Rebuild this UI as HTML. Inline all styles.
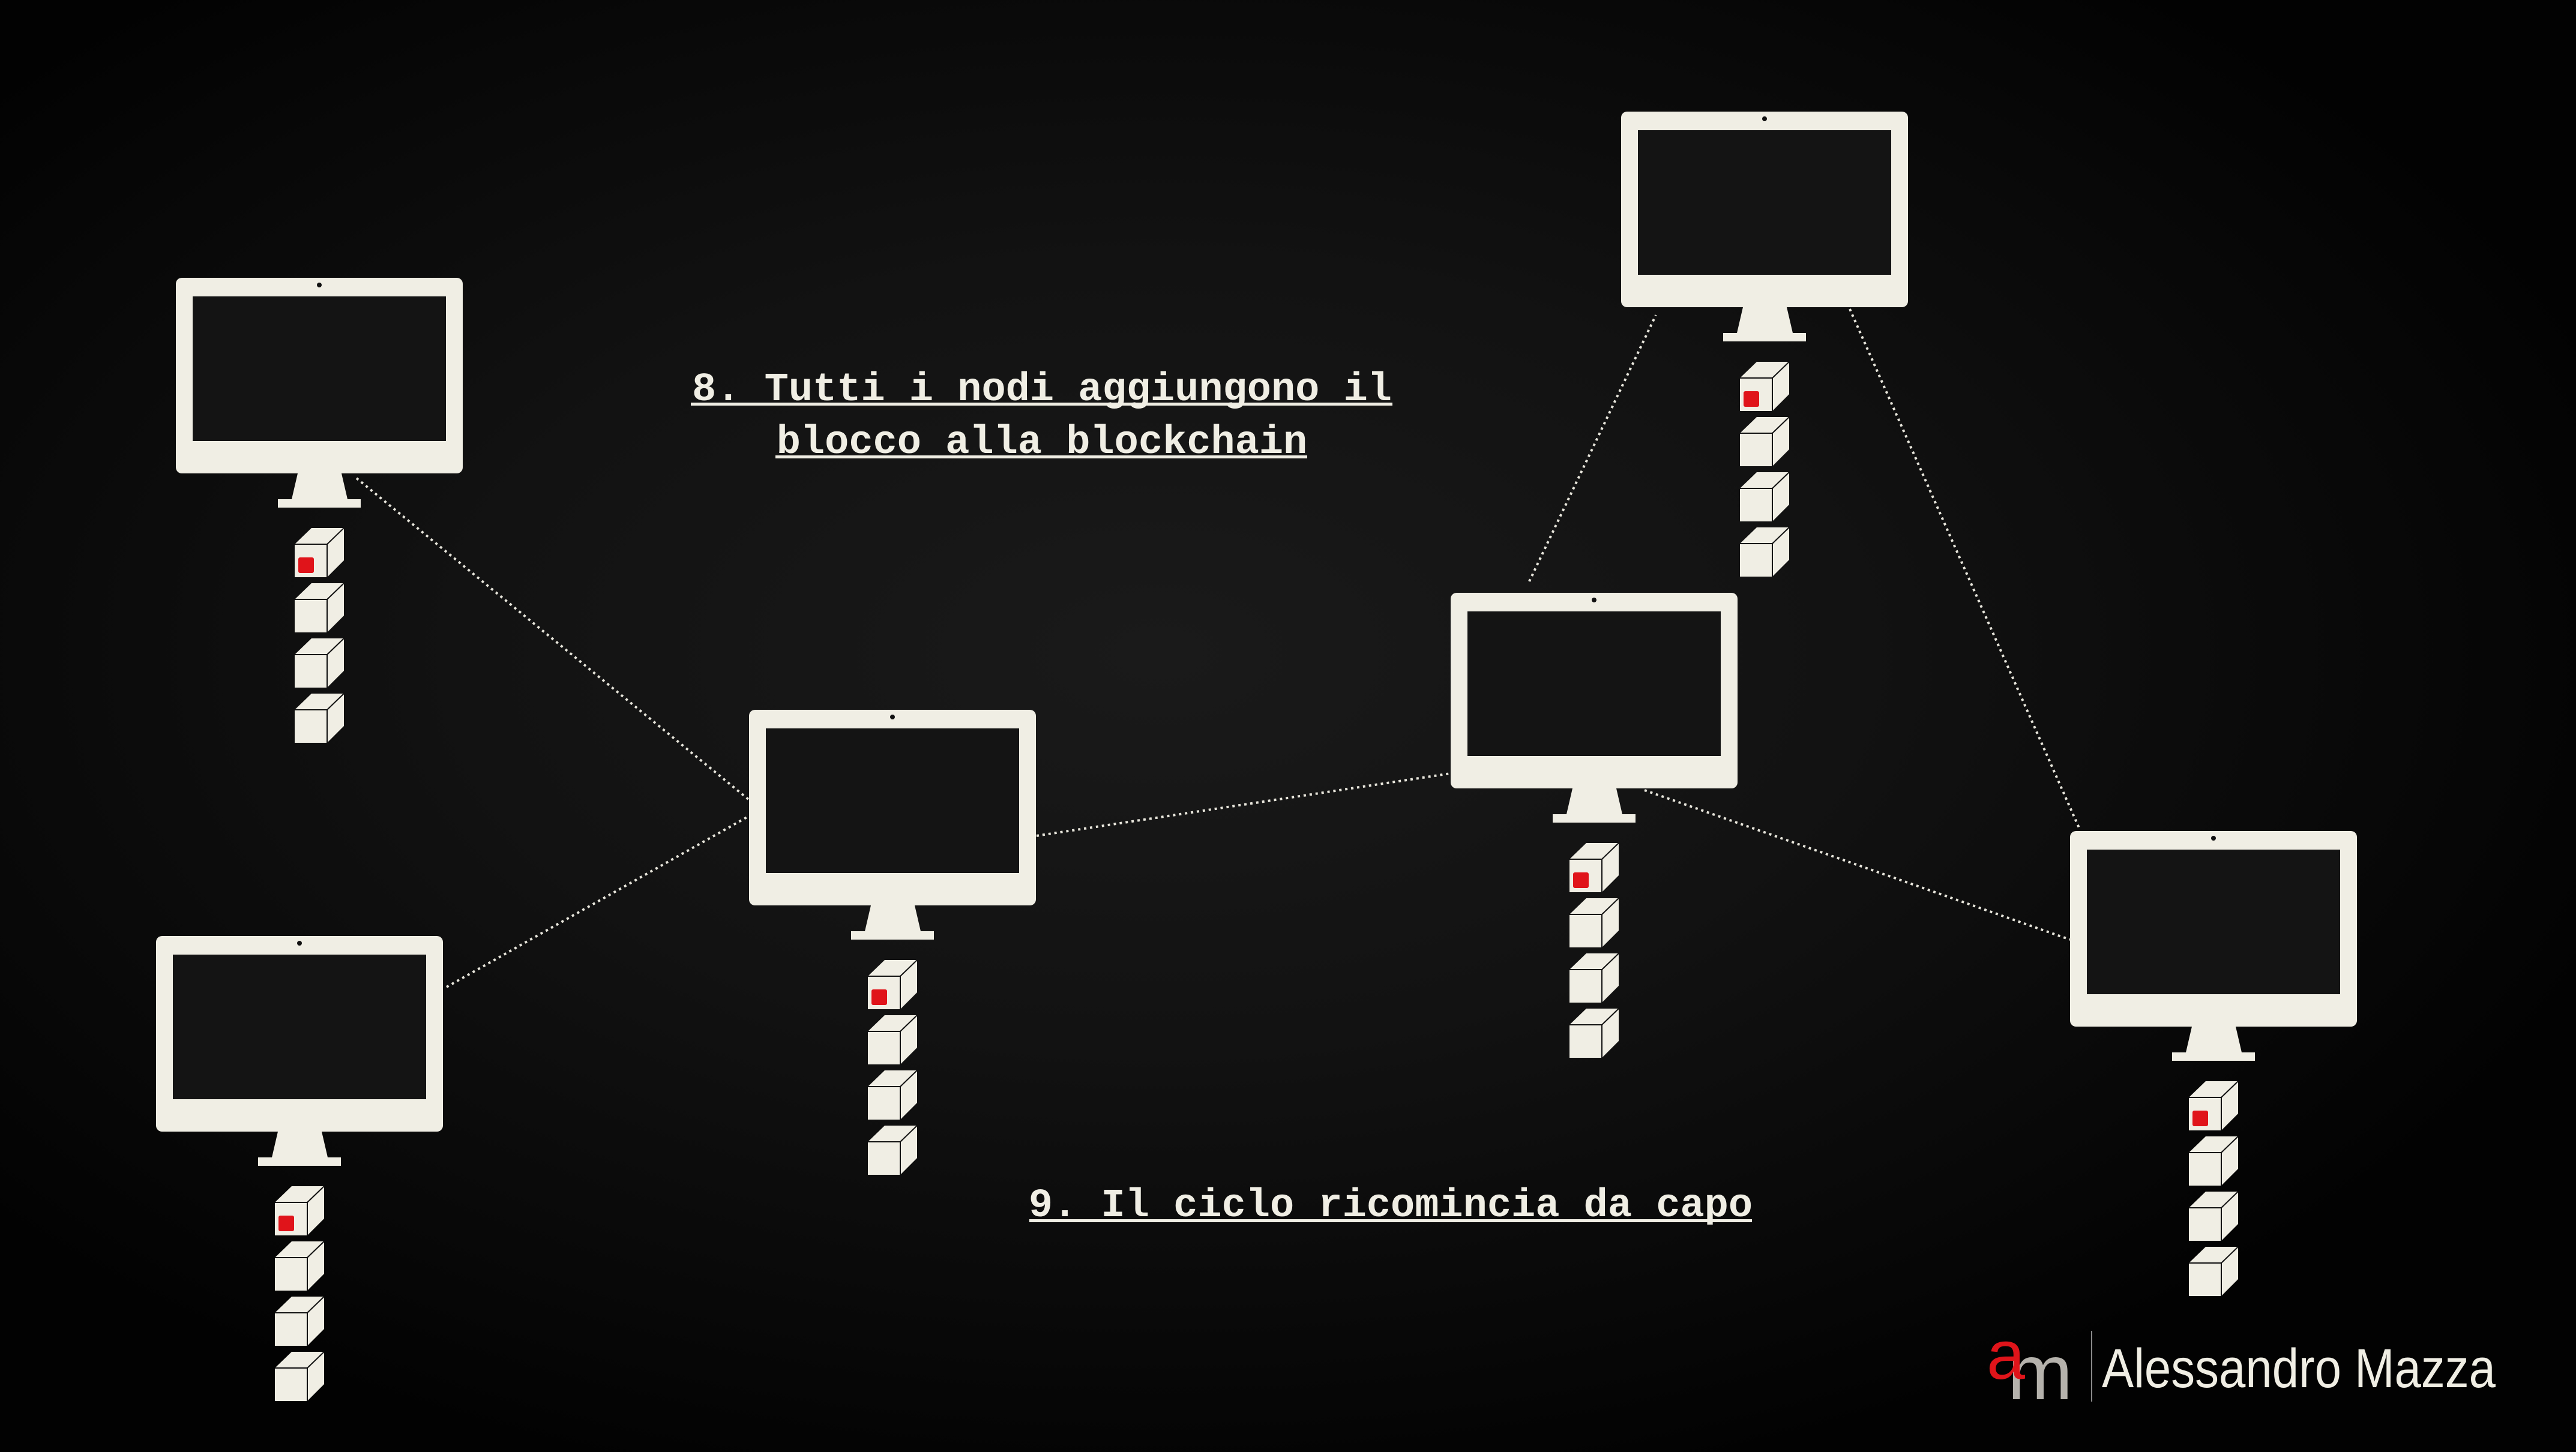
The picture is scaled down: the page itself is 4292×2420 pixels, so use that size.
<!DOCTYPE html>
<html><head><meta charset="utf-8">
<style>
html,body{margin:0;padding:0;background:#050505;}
#wrap{position:relative;width:4292px;height:2420px;overflow:hidden;
background:radial-gradient(ellipse 60% 60% at 45% 45%, #1a1a1a 0%, #121212 45%, #080808 80%, #020202 100%);}
svg{position:absolute;left:0;top:0;}
.cap{font-family:"Liberation Mono",monospace;font-weight:bold;font-size:67px;fill:#f0eee4;}
</style></head>
<body>
<div id="wrap">
<svg id="s" width="4292" height="2420" viewBox="0 0 4292 2420">
  <g id="links"></g>
  <g id="nodes"></g>
  <g>
    <text class="cap" x="1736" y="667" text-anchor="middle">8. Tutti i nodi aggiungono il</text>
    <rect x="1151" y="671" width="1169" height="5" fill="#f0eee4"/>
    <text class="cap" x="1736" y="755" text-anchor="middle">blocco alla blockchain</text>
    <rect x="1292" y="759" width="886" height="5" fill="#f0eee4"/>
  </g>
  <g>
    <text class="cap" x="2317" y="2027" text-anchor="middle">9. Il ciclo ricomincia da capo</text>
    <rect x="1715" y="2032" width="1204" height="5" fill="#f0eee4"/>
  </g>
  <g>
    <text x="3345" y="2332" font-family="Liberation Sans, sans-serif" font-size="130" fill="#b5b2ac">m</text>
    <text x="3310" y="2298" font-family="Liberation Sans, sans-serif" font-size="115" fill="#e0141a">a</text>
    <rect x="3484" y="2218" width="2" height="118" fill="#888"/>
    <text x="3502" y="2312" font-family="Liberation Sans, sans-serif" font-size="92" fill="#f0eee4" textLength="656" lengthAdjust="spacingAndGlyphs">Alessandro Mazza</text>
  </g>
</svg>
</div>
<script>
const nodeX=[293,260,1248,2417,2701,3449];
const nodeY=[463,1560,1183,988,186,1385];
const linkFrom=[[594,797],[744,1645],[1727,1393],[2548,969],[3082,515],[2740,1317]];
const linkTo=[[1248,1333],[1248,1360],[2417,1289],[2759,525],[3465,1382],[3449,1566]];
const NS='http://www.w3.org/2000/svg';
const C='#f0eee4';
function mk(tag,attrs,parent){const e=document.createElementNS(NS,tag);for(const k in attrs)e.setAttribute(k,attrs[k]);parent.appendChild(e);return e;}
const links=document.getElementById('links');
for(let i=0;i<linkFrom.length;i++){
  const l=mk('line',{x1:linkFrom[i][0],y1:linkFrom[i][1],x2:linkTo[i][0],y2:linkTo[i][1],stroke:'#e8e6dc','stroke-width':4,'stroke-dasharray':'4 6'},links);
  
  
}
const nodes=document.getElementById('nodes');
for(let i=0;i<nodeX.length;i++){
  const x=nodeX[i],y=nodeY[i];
  const g=mk('g',{transform:'translate('+x+','+y+')'},nodes);
  
  
  const mon=mk('path',{d:'M10 0H468a10 10 0 0 1 10 10V316a10 10 0 0 1-10 10H10a10 10 0 0 1-10-10V10A10 10 0 0 1 10 0Z',fill:C},g);
  
  
  const scr=mk('rect',{x:28,y:31,width:422,height:241,fill:'#141414'},g);
  
  
  mk('circle',{cx:239,cy:12,r:4,fill:'#111'},g);
  const st=mk('path',{d:'M203 326H276L286 369H193Z',fill:C},g);
  
  
  mk('rect',{x:170,y:369,width:138,height:14,fill:C},g);
  for(let k=0;k<4;k++){
    const cy=417+k*92;
    const cb=mk('g',{transform:'translate(198,'+cy+')'},g);
    
    
    mk('path',{d:'M0 27L28 0H82V54L54 82H0Z',fill:C},cb);
    mk('path',{d:'M0 27H54L82 0M54 27V82',fill:'none',stroke:'#111','stroke-width':2},cb);
    if(k===0){
      const r=mk('rect',{x:6,y:49,width:26,height:26,rx:3,fill:'#e0141a'},cb);
      
      
    }
  }
}
</script>
</body></html>
